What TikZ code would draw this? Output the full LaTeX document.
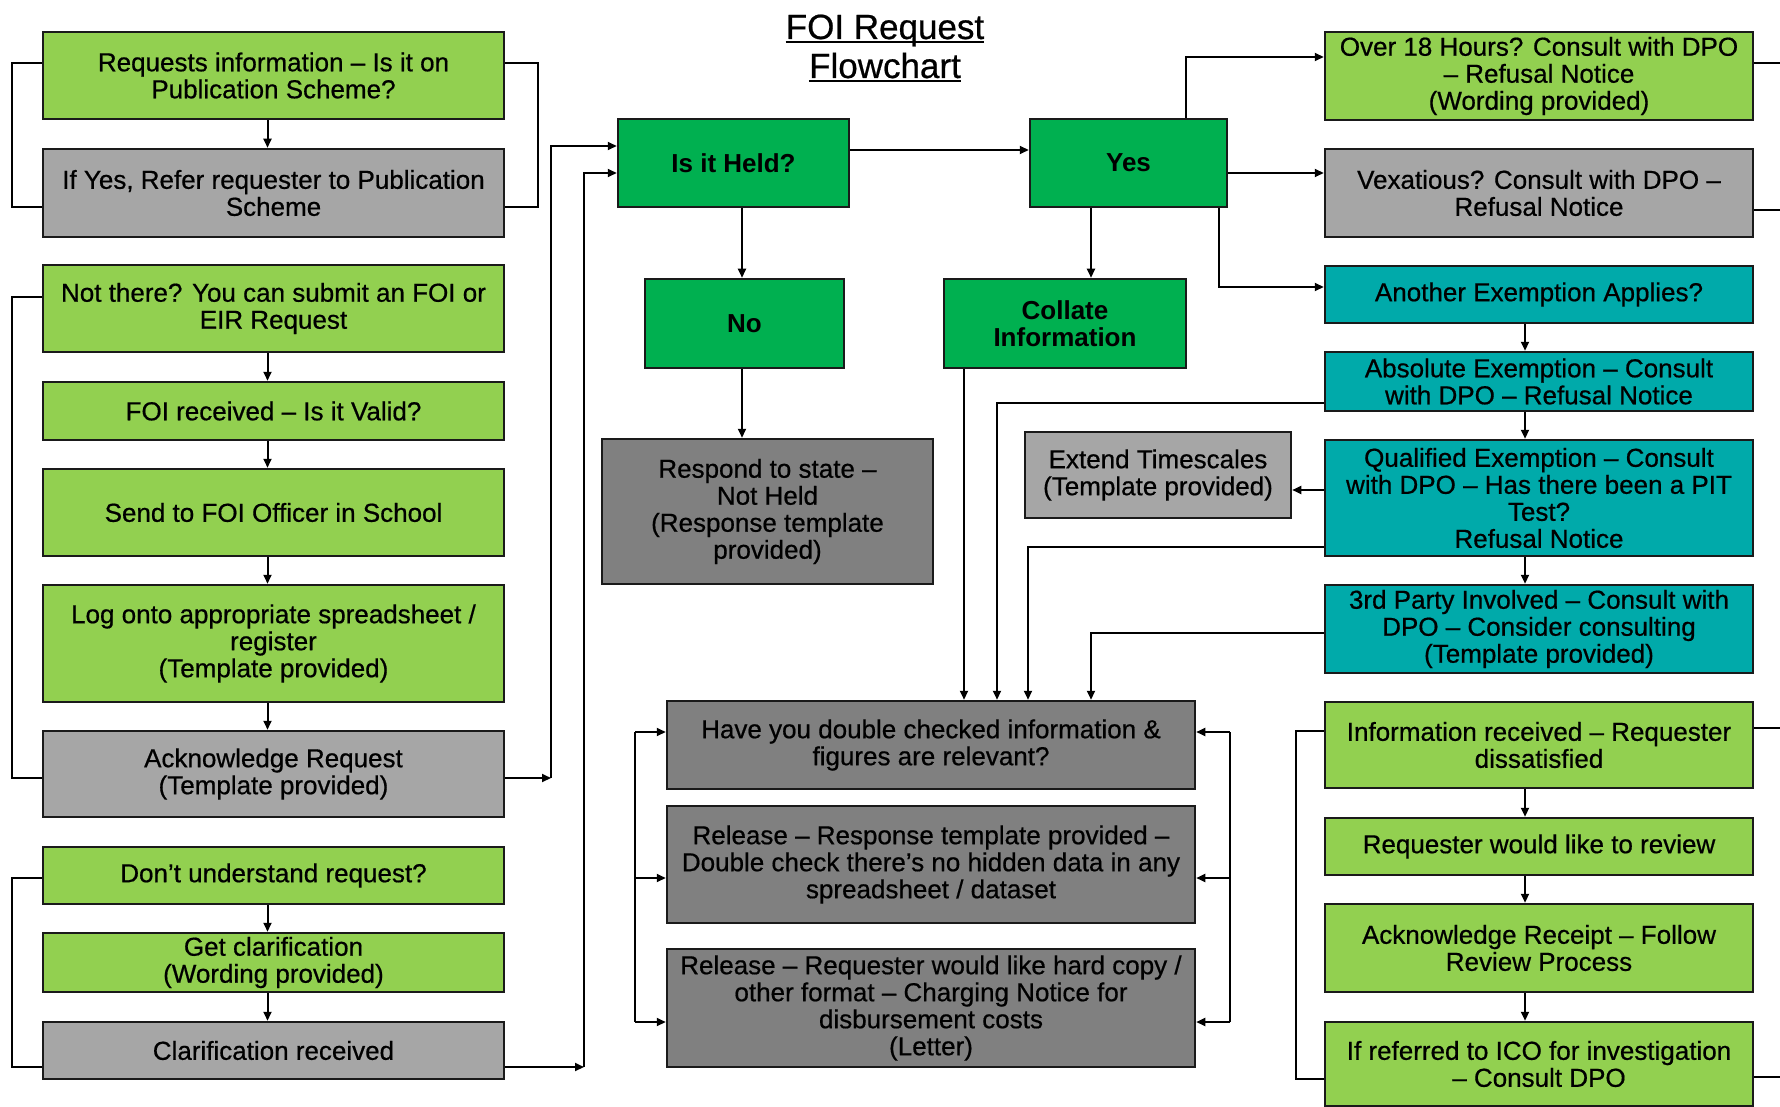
\documentclass[tikz,border=0pt]{standalone}
\usepackage{fontspec}
\setmainfont{Liberation Sans}
\newfontfamily\medfont{Liberation Sans}[FakeBold=0.6]
\usetikzlibrary{arrows.meta}
\definecolor{lgreen}{HTML}{92D050}
\definecolor{dgreen}{HTML}{00B050}
\definecolor{tealc}{HTML}{00AAAA}
\definecolor{lgray}{HTML}{A6A6A6}
\definecolor{dgray}{HTML}{808080}
\definecolor{edgec}{HTML}{1A1A1A}
\newcommand\fcbody{\fontsize{26}{27}\selectfont}
\newcommand\mkbox[7]{\node[#6, minimum width={#4-#2}, minimum height={#5-#3}] (#1) at ({(#2+#4)/2},{(#3+#5)/2}) {#7};}
\begin{document}
\begin{tikzpicture}[x=1pt,y=-1pt,
  box/.style={draw=edgec, line width=2.5pt, inner sep=0pt, align=center, font=\medfont\fcbody, text=black},
  lg/.style={box, fill=lgreen},
  dg/.style={box, fill=dgreen, font=\fcbody\bfseries},
  tl/.style={box, fill=tealc},
  gy/.style={box, fill=lgray},
  dk/.style={box, fill=dgray},
  conn/.style={line width=2pt, draw=black},
  arr/.style={conn, -{Triangle[length=9pt,width=8pt]}},
  ttl/.style={inner sep=0pt, font=\medfont\fontsize{35}{38}\selectfont}]
\useasboundingbox (0,0) rectangle (1780,1107);
\fill[white] (0,0) rectangle (1780,1107);

% title
\node[ttl, anchor=base] (t1) at (885,39) {FOI Request};
\node[ttl, anchor=base] (t2) at (885,78) {Flowchart};
\draw[line width=2pt] ([yshift=-3.5pt]t1.base west) -- ([yshift=-3.5pt]t1.base east);
\draw[line width=2pt] ([yshift=-3.5pt]t2.base west) -- ([yshift=-3.5pt]t2.base east);

% left column
\mkbox{req}{43}{32}{504}{119}{lg}{Requests information – Is it on\\Publication Scheme?}
\mkbox{ifyes}{43}{149}{504}{237}{gy}{If Yes, Refer requester to Publication\\Scheme}
\mkbox{notthere}{43}{265}{504}{352}{lg}{Not there? You can submit an FOI or\\EIR Request}
\mkbox{foirec}{43}{382}{504}{440}{lg}{FOI received – Is it Valid?}
\mkbox{send}{43}{469}{504}{556}{lg}{Send to FOI Officer in School}
\mkbox{log}{43}{585}{504}{702}{lg}{Log onto appropriate spreadsheet /\\register\\(Template provided)}
\mkbox{ack}{43}{731}{504}{817}{gy}{Acknowledge Request\\(Template provided)}
\mkbox{dont}{43}{847}{504}{904}{lg}{Don’t understand request?}
\mkbox{getclar}{43}{933}{504}{992}{lg}{Get clarification\\(Wording provided)}
\mkbox{clarrec}{43}{1022}{504}{1079}{gy}{Clarification received}

% centre
\mkbox{held}{618}{119}{849}{207}{dg}{Is it Held?}
\mkbox{yes}{1030}{119}{1227}{207}{dg}{Yes}
\mkbox{no}{645}{279}{844}{368}{dg}{No}
\mkbox{collate}{944}{279}{1186}{368}{dg}{Collate\\Information}
\mkbox{respond}{602}{439}{933}{584}{dk}{Respond to state –\\Not Held\\(Response template\\provided)}
\mkbox{extend}{1025}{432}{1291}{518}{gy}{Extend Timescales\\(Template provided)}
\mkbox{have}{667}{701}{1195}{789}{dk}{Have you double checked information \&\\figures are relevant?}
\mkbox{rel1}{667}{806}{1195}{923}{dk}{Release – Response template provided –\\Double check there’s no hidden data in any\\spreadsheet / dataset}
\mkbox{rel2}{667}{949}{1195}{1067}{dk}{Release – Requester would like hard copy /\\other format – Charging Notice for\\disbursement costs\\(Letter)}

% right column
\mkbox{over18}{1325}{32}{1753}{120}{lg}{Over 18 Hours? Consult with DPO\\– Refusal Notice\\(Wording provided)}
\mkbox{vex}{1325}{149}{1753}{237}{gy}{Vexatious? Consult with DPO –\\Refusal Notice}
\mkbox{another}{1325}{266}{1753}{323}{tl}{Another Exemption Applies?}
\mkbox{absolute}{1325}{352}{1753}{411}{tl}{Absolute Exemption – Consult\\with DPO – Refusal Notice}
\mkbox{qualified}{1325}{440}{1753}{556}{tl}{Qualified Exemption – Consult\\with DPO – Has there been a PIT\\Test?\\Refusal Notice}
\mkbox{third}{1325}{585}{1753}{673}{tl}{3rd Party Involved – Consult with\\DPO – Consider consulting\\(Template provided)}
\mkbox{inforec}{1325}{702}{1753}{788}{lg}{Information received – Requester\\dissatisfied}
\mkbox{review}{1325}{818}{1753}{875}{lg}{Requester would like to review}
\mkbox{ackrec}{1325}{904}{1753}{992}{lg}{Acknowledge Receipt – Follow\\Review Process}
\mkbox{icoref}{1325}{1022}{1753}{1106}{lg}{If referred to ICO for investigation\\– Consult DPO}

% left column arrows
\foreach \a/\b in {req/ifyes, notthere/foirec, foirec/send, send/log, log/ack, dont/getclar, getclar/clarrec}
  \draw[arr] ([xshift=-6pt]\a.south) -- ([xshift=-6pt]\b.north);

% left brackets
\draw[conn] (req.west |- 0,63) -| (11.5,207) -- (ifyes.west |- 0,207);
\draw[conn] (req.east |- 0,63) -| (538,207) -- (ifyes.east |- 0,207);
\draw[conn] (notthere.west |- 0,297) -| (11.5,778) -- (ack.west |- 0,778);
\draw[conn] (dont.west |- 0,878) -| (11.5,1067) -- (clarrec.west |- 0,1067);

% into Is it Held?
\coordinate (j1) at (551,778);
\coordinate (j2) at (584,1067);
\draw[arr] (ack.east |- 0,778) -- (j1);
\draw[arr] (j1) |- (held.west |- 0,146);
\draw[arr] (clarrec.east |- 0,1067) -- (j2);
\draw[arr] (j2) |- (held.west |- 0,173);

% centre arrows
\draw[arr] (held.east |- 0,150) -- (yes.west |- 0,150);
\draw[arr] (held.south -| 742,0) -- (no.north -| 742,0);
\draw[arr] (no.south -| 742,0) -- (respond.north -| 742,0);
\draw[arr] (yes.south -| 1091,0) -- (collate.north -| 1091,0);
\draw[arr] (yes.north -| 1186,0) |- (over18.west |- 0,57);
\draw[arr] (yes.east |- 0,173) -- (vex.west |- 0,173);
\draw[arr] (yes.south -| 1219,0) |- (another.west |- 0,287);

% into Have you
\draw[arr] (collate.south -| 964,0) -- (have.north -| 964,0);
\draw[arr] (absolute.west |- 0,403) -| (have.north -| 997,0);
\draw[arr] (qualified.west |- 0,547) -| (have.north -| 1028,0);
\draw[arr] (third.west |- 0,633) -| (have.north -| 1091,0);
\draw[arr] (qualified.west |- 0,490) -- (extend.east |- 0,490);

% release brackets
\draw[conn] (635,732) -- (635,1022);
\draw[conn] (1230,732) -- (1230,1022);
\foreach \b/\yy in {have/732, rel1/878, rel2/1022}{
  \draw[arr] (635,\yy) -- (\b.west |- 0,\yy);
  \draw[arr] (1230,\yy) -- (\b.east |- 0,\yy);
}

% right column arrows
\foreach \a/\b in {another/absolute, absolute/qualified, qualified/third, inforec/review, review/ackrec, ackrec/icoref}
  \draw[arr] (\a.south -| 1525,0) -- (\b.north -| 1525,0);

% review bracket
\draw[conn] (inforec.west |- 0,731) -| (1296,1079) -- (icoref.west |- 0,1079);

% lines leaving the page
\coordinate (e1) at (1790,63);
\coordinate (e2) at (1790,210);
\coordinate (e3) at (1790,728);
\coordinate (e4) at (1790,1077);
\draw[conn] (over18.east |- 0,63) -- (e1);
\draw[conn] (vex.east |- 0,210) -- (e2);
\draw[conn] (inforec.east |- 0,728) -- (e3);
\draw[conn] (icoref.east |- 0,1077) -- (e4);
\end{tikzpicture}
\end{document}
